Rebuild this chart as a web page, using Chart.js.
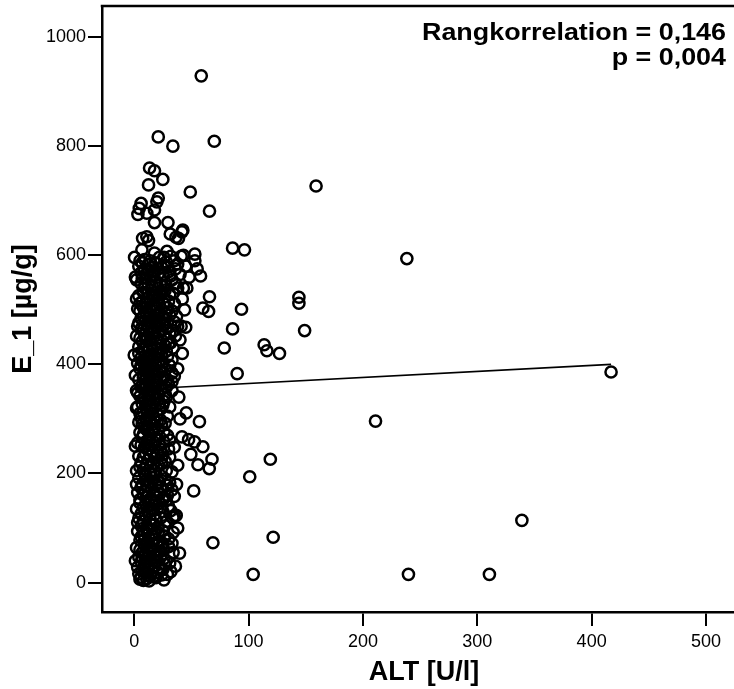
<!DOCTYPE html>
<html lang="de">
<head>
<meta charset="UTF-8">
<title>E_1 vs ALT</title>
<script src="https://cdn.jsdelivr.net/npm/chart.js"></script>
<style>
  html, body { margin: 0; padding: 0; background: #fff; overflow: hidden; }
  #wrap { width: 746px; height: 689px; }
</style>
</head>
<body>
<div id="wrap"><canvas id="scatter" width="746" height="689"></canvas></div>
<script>
// dense cluster, [ALT, E_1]
const clusterPoints = [
  [8,4],[11,7],[6,10],[14,12],[19,9],[24,14],[10,18],[4,16],[29,15],[16,20],
  [3,28],[9,25],[13,30],[21,27],[27,33],[6,38],[17,41],[11,45],[31,36],[4,47],[23,48],[15,35],
  [7,55],[12,58],[20,52],[26,60],[2,64],[9,68],[16,72],[30,66],[5,78],[13,82],[22,76],[8,88],[18,90],[27,85],[3,94],[11,97],[34,92],[15,62],
  [6,104],[14,108],[21,102],[28,112],[4,118],[10,122],[18,125],[25,130],[2,135],[8,138],[16,142],[12,147],[30,140],[22,145],[35,122],
  [5,152],[11,156],[19,160],[26,155],[3,165],[9,168],[15,172],[23,175],[7,180],[13,184],[20,188],[29,178],[4,192],[10,196],[17,198],[25,151],[28,151],[31,183],[24,218],
  [2,205],[8,208],[14,212],[21,215],[6,220],[12,225],[18,228],[27,222],[4,232],[10,236],[16,240],[23,244],[9,248],[15,252],[31,230],[33,203],[38,215],
  [3,256],[11,258],[19,262],[7,266],[14,270],[22,268],[5,275],[12,278],[18,282],[9,286],[16,290],[24,288],[4,294],[11,298],[31,261],[26,276],
  [6,302],[13,305],[20,308],[8,312],[15,316],[23,318],[3,322],[10,325],[17,330],[12,335],[19,338],[26,332],[5,342],[14,346],[21,348],[28,340],
  [2,352],[9,355],[16,358],[24,354],[7,362],[13,366],[20,368],[30,364],[4,372],[11,375],[18,378],[26,376],[8,382],[15,386],[22,388],[33,384],[5,392],[12,395],[19,398],[38,392],
  [3,402],[10,405],[17,408],[25,404],[6,412],[13,415],[21,418],[0,417],[29,414],[9,422],[16,425],[23,428],[4,432],[11,435],[19,438],[27,434],[7,442],[14,445],[32,440],[20,448],[36,452],[40,445],
  [2,452],[9,455],[16,458],[24,462],[6,465],[12,468],[19,472],[28,468],[4,476],[10,480],[17,482],[25,485],[8,488],[14,492],[22,495],[31,490],[5,498],[35,478],[38,470],
  [3,502],[11,505],[18,508],[26,512],[7,515],[14,518],[21,522],[30,516],[4,526],[12,530],[19,532],[27,536],[9,540],[16,542],[23,546],[34,530],[6,548],[38,540],[42,520],
  [2,555],[10,558],[17,562],[25,565],[6,568],[13,572],[21,575],[30,570],[4,580],[12,583],[19,586],[28,588],[9,592],[36,575],[40,565],[45,580],[33,555]
];

// core of the cluster, where the rings merge into a solid band
const clusterCore = [
  [5,6],[13,3],[17,11],[21,18],[7,22],[12,24],[18,31],[25,24],[9,36],[14,42],[20,39],[7,46],[26,44],
  [10,52],[17,56],[23,58],[5,60],[14,66],[20,68],[11,74],[18,79],[25,72],[6,84],[15,86],[21,92],[9,80],
  [11,100],[17,106],[8,112],[14,115],[23,118],[6,126],[13,130],[20,134],[10,144],[18,148],[5,146],
  [14,154],[22,162],[8,160],[17,166],[12,176],[19,180],[6,174],[10,186],[16,192],[23,196],[14,200],
  [5,212],[11,216],[17,218],[24,228],[8,230],[14,234],[20,238],[12,244],[6,252],[18,256],[13,262],
  [8,272],[16,276],[10,282],[20,294],[14,298],[7,290],[22,252],
  [10,300],[17,302],[5,310],[11,316],[18,322],[7,328],[14,334],[21,336],[9,340],[16,344],[3,348],
  [12,352],[18,356],[6,358],[10,364],[17,370],[23,372],[14,378],[8,376],[21,382],[11,388],[17,392],
  [6,398],[24,396],[28,358],[33,368],
  [14,400],[21,404],[7,406],[11,410],[18,413],[24,418],[4,420],[12,426],[20,430],[8,428],[15,436],
  [23,440],[10,446],[17,450],[5,448],[13,456],[21,460],[8,464],[15,470],[22,476],[11,474],[18,478],
  [6,484],[13,486],[20,490],[27,494],[10,496],[17,498],[29,446],[31,458],
  [8,504],[15,506],[22,510],[5,512],[11,520],[18,524],[24,528],[8,532],[15,536],[21,540],[12,548],
  [19,552],[27,550],[7,558],[14,562],[21,566],[9,574],[16,578],[24,578],[7,586],[14,590],[22,596],
  [32,598],[35,590]
];

// right-hand edge of the band
const clusterEdge = [
  [26,5],[32,20],[28,40],[34,55],[24,66],[30,80],[25,95],[33,72],
  [27,104],[32,132],[24,138],[29,160],[33,170],[27,190],[22,184],[35,158],
  [28,205],[25,235],[30,245],[26,258],[29,270],[23,298],[27,292],[35,248],
  [29,305],[25,325],[31,322],[27,345],[33,352],[29,372],[35,378],[27,390],[31,398],
  [33,408],[28,424],[34,430],[30,438],[26,452],[34,462],[29,476],[33,498],[27,482],[37,488],
  [29,504],[35,512],[31,528],[28,544],[36,548],[32,562],[29,578],[38,584],[26,596],[41,598]
];

// extra rings filling the gaps of the band
const clusterFill = [
  [1,40],[3,110],[2,180],[1,250],[2,320],[1,380],[3,470],[2,520],[1,560],
  [36,30],[38,100],[37,180],[40,300],[39,340],[42,420],[44,500],[46,540],[48,560],[41,470],
  [12,12],[18,50],[8,95],[19,115],[15,135],[20,170],[9,200],[18,205],[13,245],[21,282],[16,310],
  [22,328],[13,360],[19,362],[9,392],[15,418],[22,422],[11,448],[18,462],[25,472],[14,480],
  [20,505],[10,512],[16,528],[23,534],[11,566],[18,570],[26,582],[5,590]
];

// upper part of the cluster (E_1 > 590)
const upperPoints = [
  [58.6,929],[21,817],[33.8,800],[70,809],[13.4,760],[17.7,755],[25,739],[12.5,729],[49,716],
  [65.8,681],[21,705],[19.8,698],[6,695],[4.4,686],[3.2,675],[11,677],[17.7,683],[17.7,660],
  [29.5,660],[31.5,639],[41.7,643],[38.7,631],[7.3,631],[11,634],[12.5,627],[6.7,610],
  [17.7,604],[28.6,607],[43,600],[53,602],[0.3,596],[36.5,633],[42.5,646]
];

// scattered points away from the cluster
const outlierPoints = [
  [159,727],[86,613],[96.4,610],[238.4,594],[144,523],[144,512],[65.8,524],[60,503],[65,497],
  [93.8,501],[86,465],[149,462],[78.7,430],[113.6,436],[116,425],[127,420],[90,383],[211,296],
  [57,295],[60,249],[68,226],[65.6,209],[119,226],[101,194],[45.5,311],[41.7,267],[47.5,262],
  [52.7,258],[49.5,235],[55.7,216],[52,168],[36.7,123],[33.8,119],[68.8,73],[39.6,54],
  [121.5,83],[339,114],[104,15],[239.8,15],[310.6,15],[417,386],[53,590],[58,562],[55,575],
  [43,540],[45,468]
];

// fitted line end points
const fitAlt = [0, 417];
const fitE1 = [354, 400];

const xTicks = [0, 100, 200, 300, 400, 500];
const yTicks = [0, 200, 400, 600, 800, 1000];
const noteLines = ['Rangkorrelation = 0,146', 'p = 0,004'];

const allPoints = clusterPoints.concat(clusterCore, clusterEdge, clusterFill, upperPoints, outlierPoints)
  .map(p => ({ x: p[0], y: p[1] }));
const fitPoints = fitAlt.map((x, i) => ({ x: x, y: fitE1[i] }));

const FONT = '"Liberation Sans", Arial, Helvetica, sans-serif';

const frameAndNote = {
  id: 'frameAndNote',
  afterDraw(chart) {
    const { ctx, chartArea } = chart;
    ctx.save();
    ctx.strokeStyle = '#000';
    ctx.lineWidth = 2.5;
    ctx.beginPath();
    ctx.moveTo(chartArea.left - 1.25, chartArea.top);
    ctx.lineTo(chartArea.right, chartArea.top);
    ctx.stroke();
    ctx.fillStyle = '#000';
    ctx.font = 'bold 24px ' + FONT;
    ctx.textAlign = 'right';
    ctx.textBaseline = 'alphabetic';
    // the note is set a bit wider than the plain font
    ctx.translate(726, 0);
    ctx.scale(1.12, 1);
    noteLines.forEach((t, i) => ctx.fillText(t, 0, 40 + i * 25));
    ctx.restore();
  }
};

const noPad = s => { s.paddingTop = 0; s.paddingBottom = 0; s.paddingLeft = 0; s.paddingRight = 0; };

new Chart(document.getElementById('scatter'), {
  type: 'scatter',
  data: {
    datasets: [
      {
        data: allPoints,
        pointRadius: 5.6,
        pointHoverRadius: 5.6,
        borderWidth: 2.5,
        borderColor: '#000',
        backgroundColor: 'rgba(0,0,0,0)'
      },
      {
        type: 'line',
        data: fitPoints,
        borderColor: '#000',
        borderWidth: 1.6,
        pointRadius: 0,
        fill: false
      }
    ]
  },
  options: {
    responsive: false,
    animation: false,
    layout: { autoPadding: false, padding: { top: 6, left: 0, right: 0, bottom: 0 } },
    plugins: { legend: { display: false }, tooltip: { enabled: false } },
    scales: {
      x: {
        type: 'linear',
        min: -28.2,
        max: 535,
        afterFit: s => { s.height = 77; noPad(s); },
        afterBuildTicks: s => { s.ticks = xTicks.map(v => ({ value: v })); },
        border: { display: true, color: '#000', width: 2.5 },
        grid: { drawOnChartArea: false, drawTicks: true, tickLength: 14, color: '#000', lineWidth: 2 },
        ticks: { color: '#000', font: { family: FONT, size: 18 }, padding: 5, maxRotation: 0, callback: v => String(v) },
        title: { display: true, text: 'ALT [U/l]', color: '#000', font: { family: FONT, size: 27, weight: 'bold' }, padding: { top: 0, bottom: 0 } }
      },
      y: {
        type: 'linear',
        min: -54,
        max: 1057,
        afterFit: s => { s.width = 102; noPad(s); },
        afterBuildTicks: s => { s.ticks = yTicks.map(v => ({ value: v })); },
        border: { display: true, color: '#000', width: 2.5 },
        grid: { drawOnChartArea: false, drawTicks: true, tickLength: 14, color: '#000', lineWidth: 2 },
        ticks: { color: '#000', font: { family: FONT, size: 18 }, padding: 2, callback: v => String(v) },
        title: { display: true, text: 'E_1 [µg/g]', color: '#000', font: { family: FONT, size: 27, weight: 'bold' }, padding: { top: 7, bottom: 0 } }
      }
    }
  },
  plugins: [frameAndNote]
});
</script>
</body>
</html>
